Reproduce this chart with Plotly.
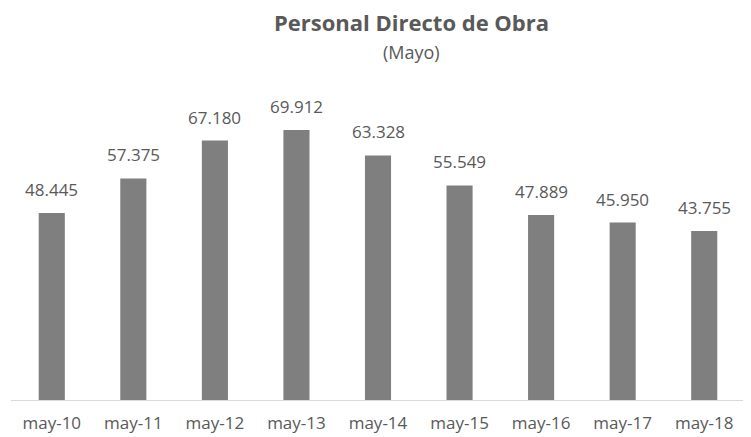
import plotly.graph_objects as go

meses = ['may-10', 'may-11', 'may-12', 'may-13', 'may-14', 'may-15', 'may-16', 'may-17', 'may-18']
personal = [48445, 57375, 67180, 69912, 63328, 55549, 47889, 45950, 43755]
etiquetas = ['48.445', '57.375', '67.180', '69.912', '63.328', '55.549', '47.889', '45.950', '43.755']

FUENTE = 'Open Sans'
GRIS_TEXTO = '#595959'

fig = go.Figure()

fig.add_trace(go.Bar(
    x=meses, y=personal,
    marker=dict(color='#7f7f7f', line=dict(width=0)),
    hovertext=etiquetas,
))

# etiquetas de datos encima de cada barra
for mes, valor, txt in zip(meses, personal, etiquetas):
    fig.add_annotation(x=mes, y=valor, text=txt, showarrow=False,
                       yanchor='bottom', yshift=10,
                       font=dict(family=FUENTE, size=17, color=GRIS_TEXTO))

# titulo y subtitulo
fig.add_annotation(text='<b>Personal Directo de Obra</b>', xref='paper', yref='paper',
                   x=0.545, y=1.0, yshift=69, yanchor='middle', showarrow=False,
                   font=dict(family=FUENTE, size=22, color=GRIS_TEXTO))
fig.add_annotation(text='(Mayo)', xref='paper', yref='paper',
                   x=0.545, y=1.0, yshift=39, yanchor='middle', showarrow=False,
                   font=dict(family=FUENTE, size=18, color=GRIS_TEXTO))

# la pagina html añade 8px de margen, por eso la figura es algo menor
fig.update_layout(
    width=743, height=429,
    margin=dict(l=3, r=6, t=83, b=37),
    plot_bgcolor='white', paper_bgcolor='white',
    bargap=0.68, showlegend=False,
    xaxis=dict(showline=True, linecolor='#d9d9d9', linewidth=1, ticks='',
               ticklabelstandoff=8,
               tickfont=dict(family=FUENTE, size=17, color=GRIS_TEXTO)),
    yaxis=dict(range=[0, 80000], visible=False, showgrid=False),
)

fig.write_html("out.html")
